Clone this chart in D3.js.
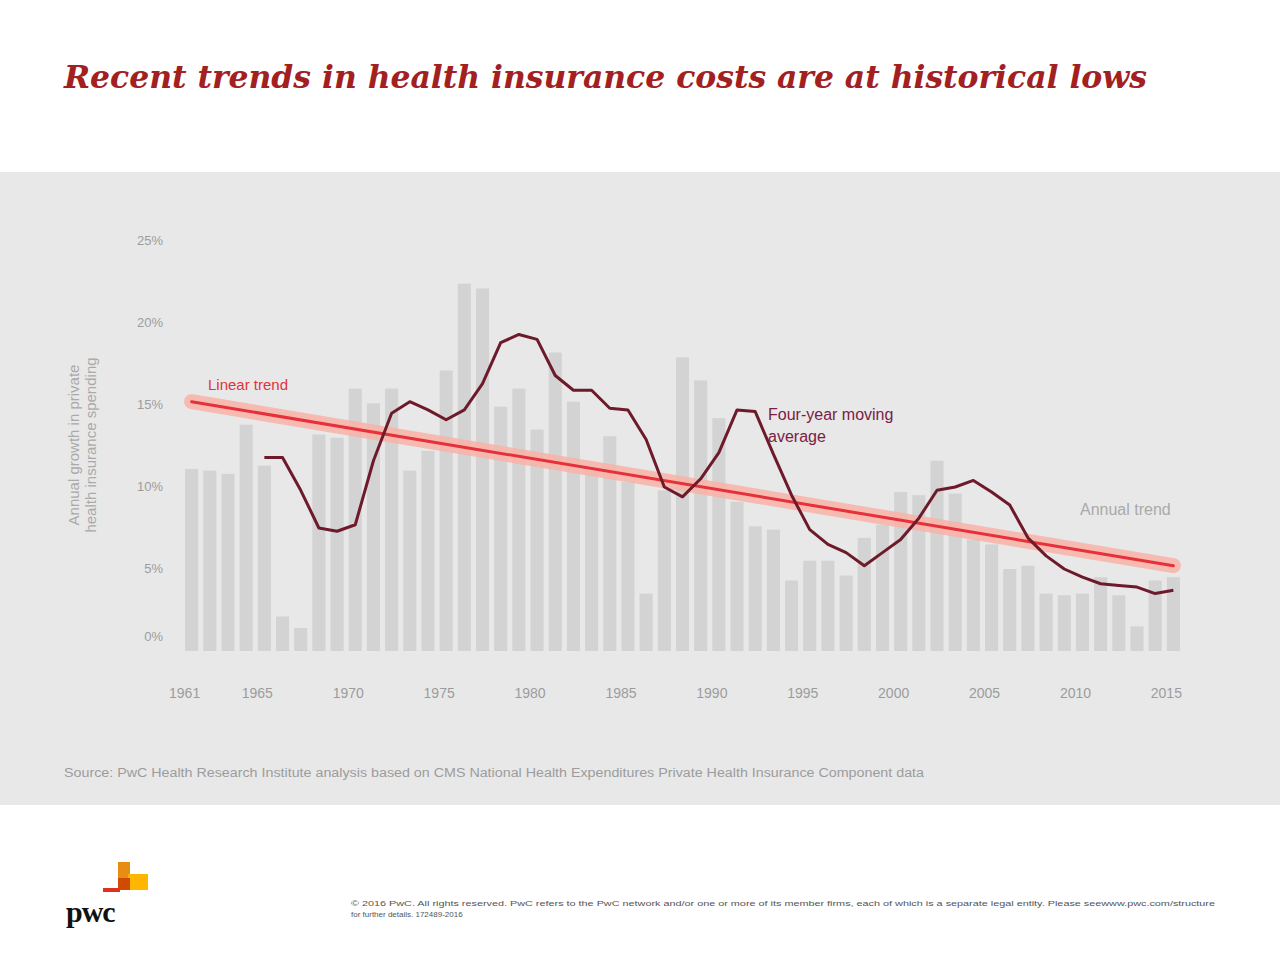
<!DOCTYPE html>
<html><head><meta charset="utf-8">
<script src="https://cdn.jsdelivr.net/npm/d3@7"></script>
<style>body{margin:0;background:#fff}</style>
</head><body>
<svg id="chart" width="1280" height="959"></svg>
<script>
const years = d3.range(1961, 2016)
const annual = [11.1,11.0,10.8,13.8,11.3,2.1,1.4,13.2,13.0,16.0,15.1,16.0,11.0,12.2,17.1,22.4,22.1,14.9,16.0,13.5,
  18.2,15.2,11.0,13.1,10.3,3.5,9.8,17.9,16.5,14.2,9.1,7.6,7.4,4.3,5.5,5.5,4.6,6.9,7.7,9.7,
  9.5,11.6,9.6,6.8,6.5,5.0,5.2,3.5,3.4,3.5,4.5,3.4,1.5,4.3,4.5]
const maYears = d3.range(1965, 2016)
const movingAvg = [11.8,11.8,9.8,7.5,7.3,7.7,11.6,14.5,15.2,14.7,14.1,14.7,16.3,18.8,19.3,19.0,16.8,15.9,15.9,14.8,
  14.7,12.9,10.0,9.4,10.5,12.1,14.7,14.6,12.0,9.5,7.4,6.5,6.0,5.2,6.0,6.8,8.1,9.8,10.0,10.4,
  9.7,8.9,6.9,5.8,5.0,4.5,4.1,4.0,3.9,3.5,3.7]
const trendYears = [1961, 2015]
const trendVals = [15.2, 5.2]
const yTicks = [0, 5, 10, 15, 20, 25]
const xTicks = [1961, 1965, 1970, 1975, 1980, 1985, 1990, 1995, 2000, 2005, 2010, 2015]

const svg = d3.select('#chart')
const grey = '#9c9c9c'

svg.append('text').attr('x', 64).attr('y', 88)
  .style('font', 'italic bold 31px "DejaVu Serif", serif').attr('fill', '#a32020')
  .attr('textLength', 1083).attr('lengthAdjust', 'spacingAndGlyphs')
  .text('Recent trends in health insurance costs are at historical lows')

svg.append('rect').attr('x', 0).attr('y', 172).attr('width', 1280).attr('height', 633).attr('fill', '#e8e8e8')

const x = d3.scaleBand().domain(years).range([180, 1185]).padding(0.28)
const xc = d => x(d) + x.bandwidth() / 2
const y = d3.scaleLinear().domain([0, 25]).range([651, 241])

svg.append('g').selectAll('rect').data(annual).join('rect')
  .attr('x', (d, i) => x(years[i])).attr('width', x.bandwidth())
  .attr('y', d => y(d)).attr('height', d => y(0) - y(d)).attr('fill', '#d3d3d3')

svg.append('g').selectAll('text').data(yTicks).join('text')
  .attr('x', 163).attr('y', d => y(d) + (d === 0 ? -10 : 4)).attr('text-anchor', 'end')
  .style('font', '13px "Liberation Sans", Arial').attr('fill', grey)
  .text(d => d + '%')

svg.append('g').selectAll('text').data(xTicks).join('text')
  .attr('x', d => xc(d) - 7).attr('y', 698).attr('text-anchor', 'middle')
  .style('font', '14px "Liberation Sans", Arial').attr('fill', grey)
  .text(d => d)

const yl = svg.append('text').attr('transform', 'translate(79,445) rotate(-90)')
  .attr('text-anchor', 'middle').style('font', '15px "Liberation Sans", Arial').attr('fill', '#aaa')
yl.append('tspan').attr('x', 0).attr('dy', 0).text('Annual growth in private')
yl.append('tspan').attr('x', 0).attr('dy', 17).text('health insurance spending')

// linear trend
const line = d3.line().x(d => xc(d[0])).y(d => y(d[1]))
const tr = d3.zip(trendYears, trendVals)
svg.append('path').attr('d', line(tr)).attr('fill', 'none')
  .attr('stroke', '#f9b1a6').attr('stroke-width', 15).attr('stroke-linecap', 'round').attr('opacity', 0.85)
svg.append('path').attr('d', line(tr)).attr('fill', 'none')
  .attr('stroke', '#e6303a').attr('stroke-width', 3).attr('stroke-linecap', 'round')

// moving average
svg.append('path').attr('d', line(d3.zip(maYears, movingAvg)))
  .attr('fill', 'none').attr('stroke', '#6d1a2b').attr('stroke-width', 3).attr('stroke-linejoin', 'round')

svg.append('text').attr('x', 208).attr('y', 390).style('font', '15px "Liberation Sans", Arial')
  .attr('fill', '#e0343c').text('Linear trend')
const ma = svg.append('text').style('font', '16px "Liberation Sans", Arial').attr('fill', '#7a2043')
ma.append('tspan').attr('x', 768).attr('y', 420).text('Four-year moving')
ma.append('tspan').attr('x', 768).attr('y', 442).text('average')
svg.append('text').attr('x', 1080).attr('y', 515).style('font', '16px "Liberation Sans", Arial')
  .attr('fill', '#aaa').text('Annual trend')

svg.append('text').attr('x', 64).attr('y', 777).style('font', '12.5px "Liberation Sans", Arial').attr('fill', grey)
  .attr('textLength', 860).attr('lengthAdjust', 'spacingAndGlyphs')
  .text('Source: PwC Health Research Institute analysis based on CMS National Health Expenditures Private Health Insurance Component data')

// logo
svg.append('rect').attr('x', 118).attr('y', 862).attr('width', 12).attr('height', 28).attr('fill', '#e88d14')
svg.append('rect').attr('x', 128).attr('y', 874).attr('width', 20).attr('height', 16).attr('fill', '#ffb600')
svg.append('rect').attr('x', 118).attr('y', 878).attr('width', 12).attr('height', 12).attr('fill', '#d04a02')
svg.append('rect').attr('x', 103).attr('y', 888).attr('width', 17).attr('height', 4).attr('fill', '#e0301e')
svg.append('text').attr('x', 66).attr('y', 922).style('font', 'bold 30px "Liberation Serif", serif')
  .attr('fill', '#111').attr('letter-spacing', -1).text('pwc')

const ft = svg.append('text').style('font', '8px "Liberation Sans", Arial').attr('fill', '#555')
ft.append('tspan').attr('x', 351).attr('y', 906).attr('textLength', 864).attr('lengthAdjust', 'spacingAndGlyphs')
  .text('© 2016 PwC. All rights reserved. PwC refers to the PwC network and/or one or more of its member firms, each of which is a separate legal entity. Please seewww.pwc.com/structure')
ft.append('tspan').attr('x', 351).attr('y', 917).text('for further details. 172489-2016')
</script>
</body></html>
